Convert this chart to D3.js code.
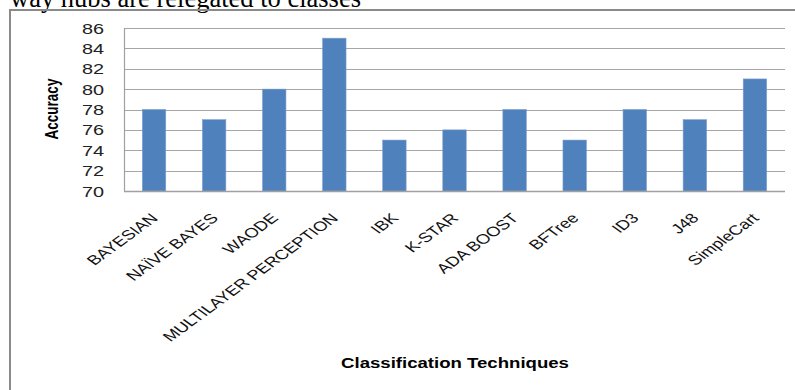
<!DOCTYPE html>
<html><head><meta charset="utf-8">
<script src="https://cdn.jsdelivr.net/npm/d3@7"></script>
<style>html,body{margin:0;padding:0;background:#fff;}svg{display:block;}</style>
</head><body>
<svg id="chart" width="795" height="390"></svg>
<script>
const categories = ["BAYESIAN","NAÏVE BAYES","WAODE","MULTILAYER PERCEPTION","IBK","K-STAR","ADA BOOST","BFTree","ID3","J48","SimpleCart"];
const accuracy = [78,77,80,85,75,76,78,75,78,77,81];
const yTicks = [70,72,74,76,78,80,82,84,86];
const yDomain = [70,86];
const xTitle = "Classification Techniques";
const yTitle = "Accuracy";
const topText = "way hubs are relegated to classes";

const svg = d3.select("#chart");
const SX = 1.37;
const M = {left:124, right:785, top:28, bottom:191};

const x = d3.scaleBand().domain(categories).range([M.left, M.right]).paddingInner(0.61).paddingOuter(0.305);
const y = d3.scaleLinear().domain(yDomain).range([M.bottom, M.top]);

// cut-off text above the frame
svg.append("text").attr("x",10).attr("y",7)
  .attr("font-family","'Liberation Serif','Times New Roman',serif").attr("font-size",26.5)
  .attr("fill","#000").text(topText);

// outer frame
svg.append("rect").attr("x",10).attr("y",10).attr("width",800).attr("height",400)
  .attr("fill","none").attr("stroke","#8a8a8a").attr("stroke-width",2);

// gridlines
svg.append("g").selectAll("line").data(yTicks.filter(d=>d!==yDomain[0])).join("line")
  .attr("x1",M.left).attr("x2",M.right)
  .attr("y1",d=>Math.round(y(d))+0.5).attr("y2",d=>Math.round(y(d))+0.5)
  .attr("stroke","#a6a6a6").attr("stroke-width",1.2);

// left axis line
svg.append("line").attr("x1",M.left+0.5).attr("x2",M.left+0.5).attr("y1",M.top).attr("y2",M.bottom)
  .attr("stroke","#a0a0a0").attr("stroke-width",1.2);

// bars
svg.append("g").selectAll("rect").data(categories).join("rect")
  .attr("x",d=>x(d)).attr("width",x.bandwidth())
  .attr("y",(d,i)=>y(accuracy[i])).attr("height",(d,i)=>y(yDomain[0])-y(accuracy[i]))
  .attr("fill","#4f81bd").attr("stroke","#7b9fd0").attr("stroke-width",0.6);

// bottom axis line
svg.append("line").attr("x1",M.left).attr("x2",M.right).attr("y1",M.bottom+0.5).attr("y2",M.bottom+0.5)
  .attr("stroke","#a0a0a0").attr("stroke-width",1.5);

// y tick labels
const yAxis = d3.axisLeft(y).tickValues(yTicks).tickSize(0).tickPadding(0);
const gy = svg.append("g").attr("transform",`translate(104,0)`).call(yAxis);
gy.select(".domain").remove();
gy.selectAll(".tick text")
  .attr("x",0).attr("dy",null)
  .attr("font-family","'Liberation Sans',Arial,sans-serif").attr("font-size",14.5)
  .attr("fill","#222").attr("text-anchor","end").attr("dominant-baseline","central")
  .attr("transform","scale("+SX+",1)");

// x category labels
const gx = svg.append("g");
gx.selectAll("text").data(categories).join("text")
  .attr("transform",d=>`translate(${x(d)+x.bandwidth()/2+5},219) scale(${SX},1) rotate(-45)`)
  .attr("text-anchor","end")
  .attr("font-family","'Liberation Sans',Arial,sans-serif").attr("font-size",13.5)
  .attr("fill","#111").text(d=>d);

// y title
svg.append("text").attr("transform",`translate(58,109) scale(${SX},1) rotate(-90)`)
  .attr("text-anchor","middle")
  .attr("font-family","'Liberation Sans',Arial,sans-serif").attr("font-size",13.5).attr("font-weight","bold")
  .attr("fill","#000").text(yTitle);

// x title
svg.append("text").attr("transform",`translate(455,368) scale(1.3,1)`)
  .attr("text-anchor","middle")
  .attr("font-family","'Liberation Sans',Arial,sans-serif").attr("font-size",14.3).attr("font-weight","bold")
  .attr("fill","#000").text(xTitle);
</script>
</body></html>
